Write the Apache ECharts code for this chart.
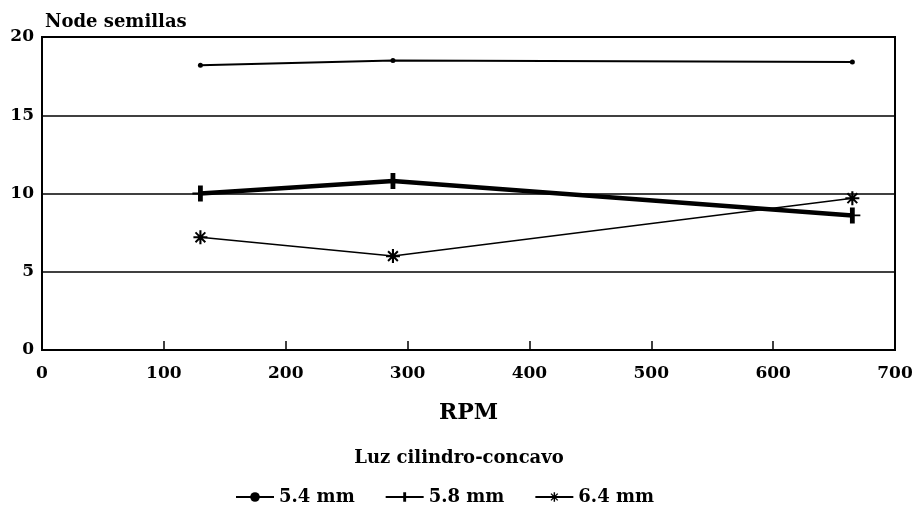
<!DOCTYPE html>
<html><head><meta charset="utf-8">
<script src="https://cdn.jsdelivr.net/npm/echarts@6/dist/echarts.min.js"></script>
<style>html,body{margin:0;padding:0;background:#fff}#c{width:918px;height:508px}</style>
</head><body><div id="c"></div>
<script>
const rpm = [130, 288, 665];
const s54 = [18.2, 18.5, 18.4];
const s58 = [10.0, 10.8, 8.6];
const s64 = [7.2, 6.0, 9.7];
const seriesNames = ['5.4 mm', '5.8 mm', '6.4 mm'];
const xTicks = [0, 100, 200, 300, 400, 500, 600, 700];
const yTicks = [0, 5, 10, 15, 20];

const F = 'DejaVu Serif';
const plusPath = 'path://M-0.18,-1 H0.18 V-0.12 H0.6 V0.12 H0.18 V1 H-0.18 V0.12 H-0.6 V-0.12 H-0.18 Z';
const starPath = 'path://M-0.15,-1 H0.15 V1 H-0.15 Z M-1,-0.15 H1 V0.15 H-1 Z M-0.8,-0.6 L-0.6,-0.8 L0.8,0.6 L0.6,0.8 Z M0.6,-0.8 L0.8,-0.6 L-0.6,0.8 L-0.8,0.6 Z';

const chart = echarts.init(document.getElementById('c'));
chart.setOption({
  backgroundColor: '#fff',
  animation: false,
  textStyle: {fontFamily: F, color: '#000'},
  title: [
    {text: 'Node semillas', left: 40, top: 8, textStyle: {fontFamily: F, fontWeight: 'bold', fontSize: 18, color: '#000'}},
    {text: 'Luz cilindro-concavo', left: 'center', top: 444, textStyle: {fontFamily: F, fontWeight: 'bold', fontSize: 18, color: '#000'}}
  ],
  legend: {
    top: 483, left: 230, itemGap: 30, itemWidth: 38, itemHeight: 12,
    textStyle: {fontFamily: F, fontWeight: 'bold', fontSize: 18, color: '#000'},
    data: seriesNames
  },
  grid: {left: 42, right: 23, top: 37, bottom: 158, show: true, borderColor: '#000', borderWidth: 2},
  xAxis: {
    type: 'value', min: 0, max: 700, interval: 100,
    name: 'RPM', nameLocation: 'middle', nameGap: 52,
    nameTextStyle: {fontFamily: F, fontSize: 22, fontWeight: 'bold', color: '#000'},
    axisLine: {show: true, lineStyle: {color: '#000', width: 2}},
    axisTick: {show: true, inside: true, length: 9, lineStyle: {color: '#000', width: 1.5}},
    axisLabel: {margin: 15, fontFamily: F, fontWeight: 'bold', fontSize: 17, color: '#000',
      formatter: v => xTicks.includes(v) ? String(v) : ''},
    splitLine: {show: false}
  },
  yAxis: {
    type: 'value', min: 0, max: 20, interval: 5,
    axisLine: {show: true, lineStyle: {color: '#000', width: 2}},
    axisTick: {show: false},
    axisLabel: {margin: 8, fontFamily: F, fontWeight: 'bold', fontSize: 17, color: '#000',
      formatter: v => yTicks.includes(v) ? String(v) : ''},
    splitLine: {show: true, lineStyle: {color: '#000', width: 1.5}}
  },
  series: [
    {name: seriesNames[0], type: 'line', data: rpm.map((x, i) => [x, s54[i]]),
      symbol: 'circle', symbolSize: 5, lineStyle: {color: '#000', width: 2}, itemStyle: {color: '#000'}},
    {name: seriesNames[1], type: 'line', data: rpm.map((x, i) => [x, s58[i]]),
      symbol: plusPath, symbolSize: 16, lineStyle: {color: '#000', width: 4.5}, itemStyle: {color: '#000'}},
    {name: seriesNames[2], type: 'line', data: rpm.map((x, i) => [x, s64[i]]),
      symbol: starPath, symbolSize: 14, lineStyle: {color: '#000', width: 1.5}, itemStyle: {color: '#000'}}
  ]
});
</script></body></html>
